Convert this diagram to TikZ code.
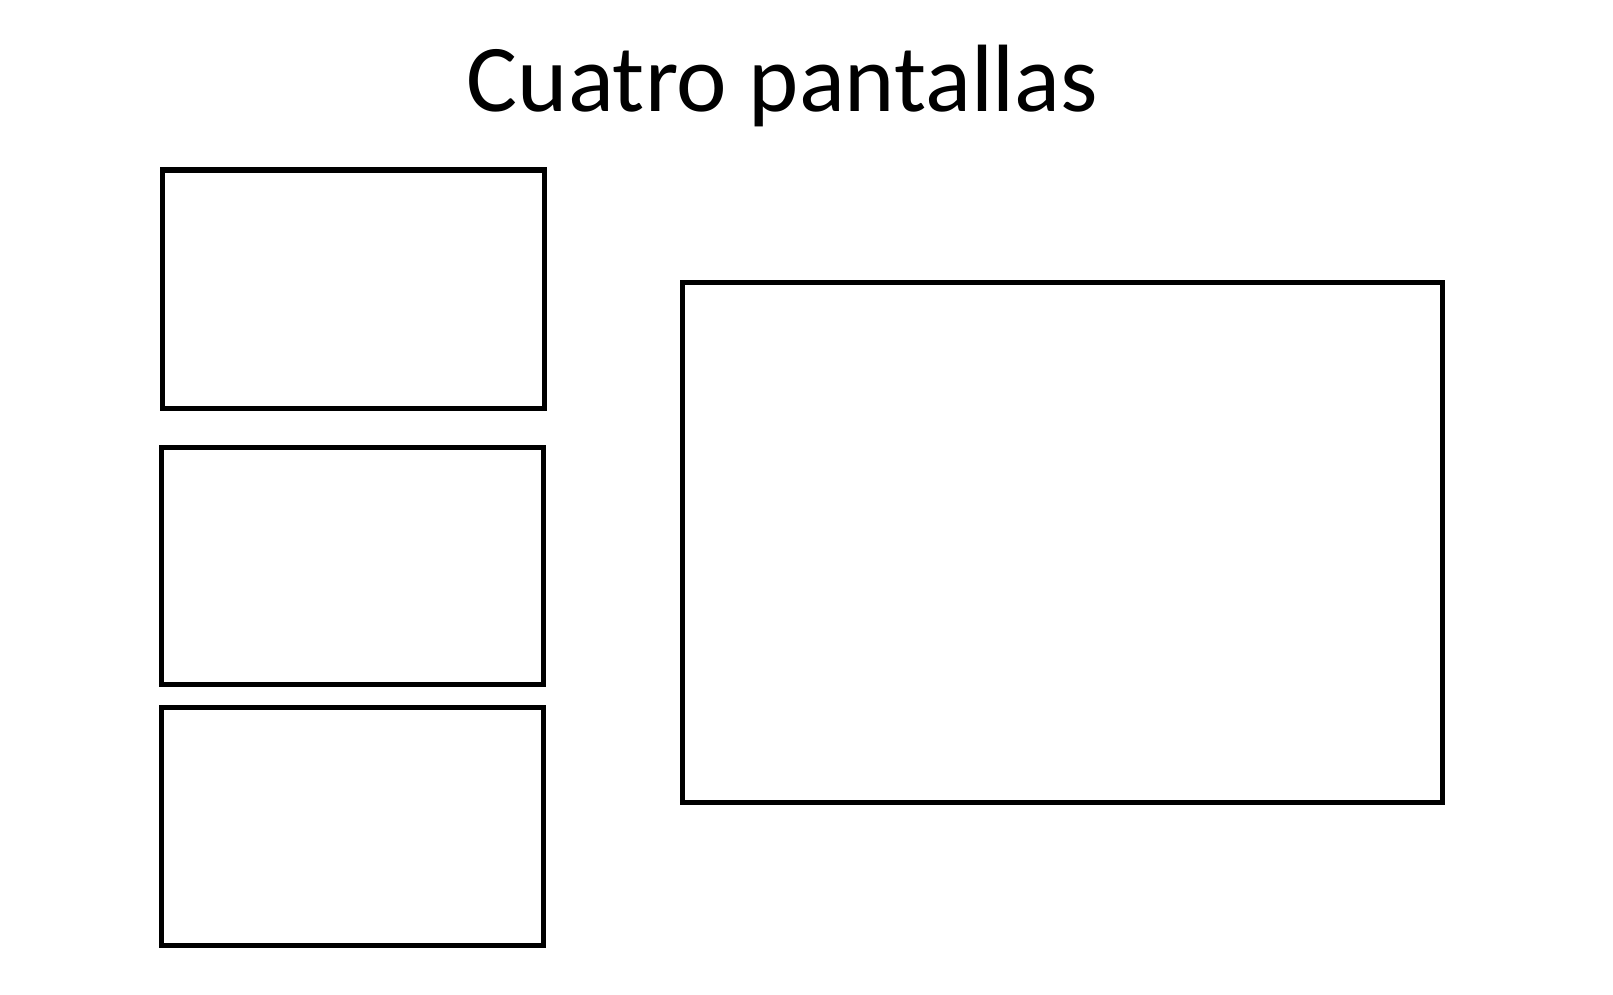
\documentclass[tikz,border=0pt]{standalone}
\usepackage{fontspec}
\setmainfont{Carlito}
\begin{document}
\begin{tikzpicture}[x=0.01cm,y=-0.01cm,
  screen/.style={draw=black,line width=0.05cm}]
\useasboundingbox[fill=white] (0,0) rectangle (1613,994);
\node[anchor=base,inner sep=0pt,font=\fontsize{27.2pt}{32pt}\selectfont] (title) at (782.5,112) {Cuatro pantallas};
\draw[screen] (162.5,170) rectangle (544,408) coordinate (s1);
\draw[screen] (161.5,447.5) rectangle (543,684.5) coordinate (s2);
\draw[screen] (161.5,707) rectangle (543,945) coordinate (s3);
\draw[screen] (682.5,282.5) rectangle (1442.5,802.5) coordinate (s4);
\end{tikzpicture}
\end{document}
